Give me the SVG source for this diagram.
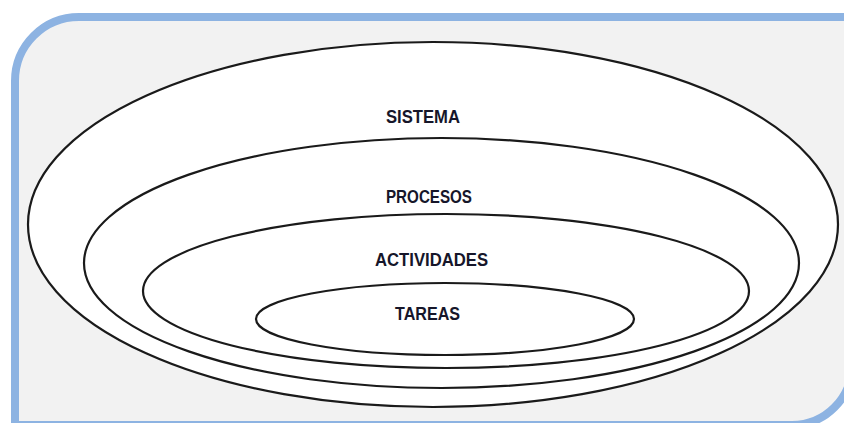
<svg xmlns="http://www.w3.org/2000/svg" width="844" height="423" viewBox="0 0 844 423">
<style>
.frame{fill:#F2F2F2;stroke:#8DB3E2;stroke-width:8}
.ring{fill:#FFFFFF;stroke:#1A1A1A;stroke-width:2.2}
.lbl{font-family:"Liberation Sans",Arial,sans-serif;font-weight:bold;font-size:18px;fill:#16162A;text-anchor:middle}
</style>
<rect width="844" height="423" fill="#FFFFFF"/>
<path class="frame" d="M15,81 A64,64 0 0 1 79,17 L852,17 L852,365 A60,60 0 0 1 792,425 L15,425 Z"/>
<g id="sistema">
<ellipse class="ring" cx="433" cy="224.5" rx="405" ry="182.5"/>
<text class="lbl" x="423" y="123" textLength="74" lengthAdjust="spacingAndGlyphs">SISTEMA</text>
</g>
<g id="procesos">
<ellipse class="ring" cx="441.5" cy="263" rx="357.5" ry="125"/>
<text class="lbl" x="429" y="203" textLength="86" lengthAdjust="spacingAndGlyphs">PROCESOS</text>
</g>
<g id="actividades">
<ellipse class="ring" cx="446" cy="291" rx="303" ry="77"/>
<text class="lbl" x="431.5" y="266" textLength="113" lengthAdjust="spacingAndGlyphs">ACTIVIDADES</text>
</g>
<g id="tareas">
<ellipse class="ring" cx="445" cy="319" rx="189" ry="36"/>
<text class="lbl" x="427.5" y="320" textLength="65" lengthAdjust="spacingAndGlyphs">TAREAS</text>
</g>
<g id="connectors"></g>
</svg>
